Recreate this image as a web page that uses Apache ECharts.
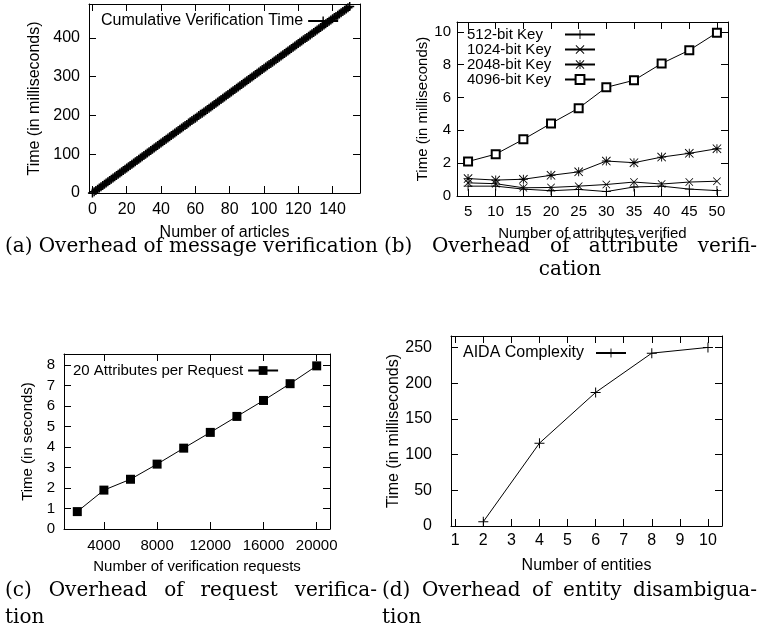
<!DOCTYPE html>
<html><head><meta charset="utf-8">
<script src="https://cdn.jsdelivr.net/npm/echarts@6/dist/echarts.min.js"></script>
<style>html,body{margin:0;padding:0;background:#fff}#c{width:760px;height:643px}</style>
</head><body><div id="c"></div>
<script>
// ---------- DATA ----------
// (a) cumulative verification time (ms) for article counts 0..150
const cumulativeTime = [
  0, 3.3, 6.5, 9.8, 13.0, 16.2, 19.5, 22.7, 25.8, 29.1, 32.3,
  35.5, 38.8, 42.0, 45.1, 48.4, 51.6, 54.9, 58.0, 61.2, 64.5,
  67.7, 70.8, 74.1, 77.3, 80.5, 83.8, 87.0, 90.1, 93.4, 96.6,
  99.8, 103.1, 106.2, 109.4, 112.7, 115.9, 119.0, 122.3, 125.5, 128.7,
  132.0, 135.1, 138.3, 141.6, 144.8, 147.9, 151.2, 154.4, 157.6, 160.9,
  164.0, 167.2, 170.5, 173.7, 176.8, 180.1, 183.3, 186.5, 189.8, 192.9,
  196.1, 199.4, 202.6, 205.7, 209.0, 212.2, 215.4, 218.6, 221.8, 225.0,
  228.2, 231.5, 234.6, 237.8, 241.1, 244.3, 247.4, 250.7, 253.9, 257.1,
  260.3, 263.5, 266.7, 270.0, 273.1, 276.3, 279.6, 282.8, 285.9, 289.2,
  292.4, 295.5, 298.8, 302.0, 305.2, 308.4, 311.6, 314.8, 318.0, 321.2,
  324.4, 327.6, 330.8, 334.0, 337.2, 340.4, 343.6, 346.8, 350.0, 353.2,
  356.4, 359.6, 362.8, 366.0, 369.2, 372.3, 375.5, 378.7, 381.9, 385.1,
  388.3, 391.5, 394.7, 397.8, 401.0, 404.2, 407.4, 410.6, 413.8, 417.0,
  420.1, 423.3, 426.5, 429.7, 432.9, 436.1, 439.2, 442.4, 445.6, 448.8,
  452.0, 455.1, 458.3, 461.5, 464.7, 467.9, 471.0, 474.2, 477.4, 480.5
];
const aXTicks = [0, 20, 40, 60, 80, 100, 120, 140];
const aYTicks = [0, 100, 200, 300, 400];

// (b) attribute verification
const attrCounts = [5, 10, 15, 20, 25, 30, 35, 40, 45, 50];
const key512  = [0.6, 0.6, 0.42, 0.32, 0.4, 0.27, 0.55, 0.6, 0.42, 0.33];
const key1024 = [0.8, 0.75, 0.5, 0.52, 0.6, 0.7, 0.85, 0.73, 0.85, 0.9];
const key2048 = [1.06, 0.97, 1.02, 1.26, 1.47, 2.13, 2.03, 2.37, 2.6, 2.88];
const key4096 = [2.1, 2.55, 3.45, 4.42, 5.35, 6.62, 7.05, 8.07, 8.88, 9.95];
const bXTicks = [5, 10, 15, 20, 25, 30, 35, 40, 45, 50];
const bYTicks = [0, 2, 4, 6, 8, 10];

// (c) request verification
const requestCounts = [2000, 4000, 6000, 8000, 10000, 12000, 14000, 16000, 18000, 20000];
const requestTime = [0.85, 1.9, 2.43, 3.17, 3.95, 4.72, 5.5, 6.28, 7.1, 7.97];
const cXTicks = [4000, 8000, 12000, 16000, 20000];
const cYTicks = [0, 1, 2, 3, 4, 5, 6, 7, 8];

// (d) entity disambiguation
const entityCounts = [2, 4, 6, 8, 10];
const aidaTime = [6, 116, 187, 242, 250];
const dXTicks = [1, 2, 3, 4, 5, 6, 7, 8, 9, 10];
const dYTicks = [0, 50, 100, 150, 200, 250];

// ---------- CHART ----------
const SANS = 'Liberation Sans';
const SERIF = 'DejaVu Serif';
const plusPath = 'path://M4.5,0H5.5V4.5H10V5.5H5.5V10H4.5V5.5H0V4.5H4.5Z';
const boldPlusPath = 'path://M4.2,0H5.8V4.2H10V5.8H5.8V10H4.2V5.8H0V4.2H4.2Z';
const crossPath = 'path://M0.7,0L10,9.3L9.3,10L0,0.7Z M9.3,0L10,0.7L0.7,10L0,9.3Z';
const starPath = 'path://M4.5,0H5.5V4.5H10V5.5H5.5V10H4.5V5.5H0V4.5H4.5Z M0.7,0L10,9.3L9.3,10L0,0.7Z M9.3,0L10,0.7L0.7,10L0,9.3Z';

const chart = echarts.init(document.getElementById('c'), null, {renderer: 'canvas'});

function mkAxis(grid, pos, min, max, ticks, fs, opts) {
  opts = opts || {};
  const main = pos === 'bottom' || pos === 'left';
  return {
    type: 'value', gridIndex: grid, position: pos, min: min, max: max,
    axisLine: {show: true, onZero: false, lineStyle: {color: '#000', width: 1}},
    axisTick: {show: true, inside: true, length: 7, customValues: ticks, lineStyle: {color: '#000', width: 1}},
    axisLabel: {show: main, customValues: ticks, fontSize: fs, fontFamily: SANS, color: '#000',
      margin: opts.margin || 8, formatter: v => String(v)},
    splitLine: {show: false},
    name: main ? opts.name : '',
    nameLocation: 'middle', nameGap: opts.nameGap || 30,
    nameTextStyle: {fontSize: fs, fontFamily: SANS, color: '#000'}
  };
}

const xAxes = [
  mkAxis(0, 'bottom', -2, 156, aXTicks, 16, {name: 'Number of articles', nameGap: 32, margin: 9}),
  mkAxis(0, 'top', -2, 156, aXTicks, 16),
  mkAxis(1, 'bottom', 3, 52, bXTicks, 15, {name: 'Number of attributes verified', nameGap: 30, margin: 8}),
  mkAxis(1, 'top', 3, 52, bXTicks, 15),
  mkAxis(2, 'bottom', 1000, 21000, cXTicks, 15, {name: 'Number of verification requests', nameGap: 30, margin: 9}),
  mkAxis(2, 'top', 1000, 21000, cXTicks, 15),
  mkAxis(3, 'bottom', 0.85, 10.5, dXTicks, 16, {name: 'Number of entities', nameGap: 32, margin: 7}),
  mkAxis(3, 'top', 0.85, 10.5, dXTicks, 16)
];
const yAxes = [
  mkAxis(0, 'left', 0, 487, aYTicks, 16, {name: 'Time (in milliseconds)', nameGap: 46, margin: 9}),
  mkAxis(0, 'right', 0, 487, aYTicks, 16),
  mkAxis(1, 'left', 0, 10.6, bYTicks, 15, {name: 'Time (in milliseconds)', nameGap: 25, margin: 6}),
  mkAxis(1, 'right', 0, 10.6, bYTicks, 15),
  mkAxis(2, 'left', 0, 8.55, cYTicks, 15, {name: 'Time (in seconds)', nameGap: 29, margin: 9}),
  mkAxis(2, 'right', 0, 8.55, cYTicks, 15),
  mkAxis(3, 'left', 0, 266, dYTicks, 16, {name: 'Time (in milliseconds)', nameGap: 46, margin: 19}),
  mkAxis(3, 'right', 0, 266, dYTicks, 16)
];

function lineSeries(name, xi, data, symbol, size, extra) {
  return Object.assign({
    type: 'line', name: name, xAxisIndex: xi, yAxisIndex: xi, data: data,
    symbol: symbol, symbolSize: size, showSymbol: true, showAllSymbol: true,
    lineStyle: {color: '#000', width: 1},
    itemStyle: {color: '#000', borderColor: '#000', borderWidth: 0},
    emphasis: {disabled: true}, animation: false, z: 3
  }, extra || {});
}
function pairs(xs, ys) { return ys.map((v, i) => [xs[i], v]); }

const series = [
  lineSeries('Cumulative Verification Time', 0, cumulativeTime.map((v, i) => [i, v]), boldPlusPath, 9,
    {lineStyle: {color: '#000', width: 2}}),
  lineSeries('512-bit Key', 2, pairs(attrCounts, key512), plusPath, 9),
  lineSeries('1024-bit Key', 2, pairs(attrCounts, key1024), crossPath, 8),
  lineSeries('2048-bit Key', 2, pairs(attrCounts, key2048), starPath, 9),
  lineSeries('4096-bit Key', 2, pairs(attrCounts, key4096), 'emptyRect', 8,
    {itemStyle: {color: '#000', borderColor: '#000', borderWidth: 1}}),
  lineSeries('20 Attributes per Request', 4, pairs(requestCounts, requestTime), 'rect', 9),
  lineSeries('AIDA Complexity', 6, pairs(entityCounts, aidaTime), plusPath, 10)
];

function legend(names, left, top, fs, textWidth) {
  const lg = {
    data: names, left: left, top: top, orient: 'vertical', align: 'right',
    itemWidth: 30, itemHeight: 11, itemGap: 0, padding: 0,
    selectedMode: false,
    textStyle: {fontSize: fs, fontFamily: SANS, color: '#000', lineHeight: fs}
  };
  if (textWidth) {
    lg.formatter = n => '{t|' + n + '}';
    lg.textStyle.rich = {t: {width: textWidth, align: 'left', fontSize: fs, fontFamily: SANS,
      color: '#000', lineHeight: fs}};
  }
  return lg;
}

// ---------- CAPTIONS ----------
const capFont = '20px "' + SERIF + '"';
const measureCtx = document.createElement('canvas').getContext('2d');
measureCtx.font = capFont;
function textLine(words, x0, x1, y, justify) {
  const widths = words.map(w => measureCtx.measureText(w).width);
  const sum = widths.reduce((a, b) => a + b, 0);
  const space = measureCtx.measureText(' ').width;
  const gap = justify && words.length > 1 ? (x1 - x0 - sum) / (words.length - 1) : space;
  let x = x0;
  return words.map((w, i) => {
    const el = {type: 'text', x: x, y: y, silent: true,
      style: {text: w, font: capFont, fill: '#000', align: 'left', verticalAlign: 'middle'}};
    x += widths[i] + gap;
    return el;
  });
}
function centered(word, cx, y) {
  return {type: 'text', x: cx, y: y, silent: true,
    style: {text: word, font: capFont, fill: '#000', align: 'center', verticalAlign: 'middle'}};
}

const graphics = [].concat(
  textLine(['(a)', 'Overhead', 'of', 'message', 'verification'], 5, 378, 247, true),
  textLine(['(b)', 'Overhead', 'of', 'attribute', 'verifi-'], 384, 757, 247, true),
  [centered('cation', 570, 270)],
  textLine(['(c)', 'Overhead', 'of', 'request', 'verifica-'], 5, 377, 591, true),
  textLine(['tion'], 5, 60, 618, false),
  textLine(['(d)', 'Overhead', 'of', 'entity', 'disambigua-'], 382, 757, 591, true),
  textLine(['tion'], 382, 440, 618, false)
);

chart.setOption({
  animation: false,
  backgroundColor: '#fff',
  grid: [
    {left: 89, top: 4, width: 271, height: 189},
    {left: 457, top: 22, width: 271, height: 174},
    {left: 64, top: 354, width: 266, height: 175},
    {left: 451, top: 336, width: 271, height: 190}
  ],
  xAxis: xAxes,
  yAxis: yAxes,
  legend: [
    legend(['Cumulative Verification Time'], 101, 13, 16),
    legend(['512-bit Key', '1024-bit Key', '2048-bit Key',
      {name: '4096-bit Key', itemStyle: {borderWidth: 1}}], 467, 27, 15, 93),
    legend(['20 Attributes per Request'], 73, 363, 15),
    legend(['AIDA Complexity'], 463, 345, 16, 128)
  ],
  series: series,
  graphic: graphics
});
</script>
</body></html>
